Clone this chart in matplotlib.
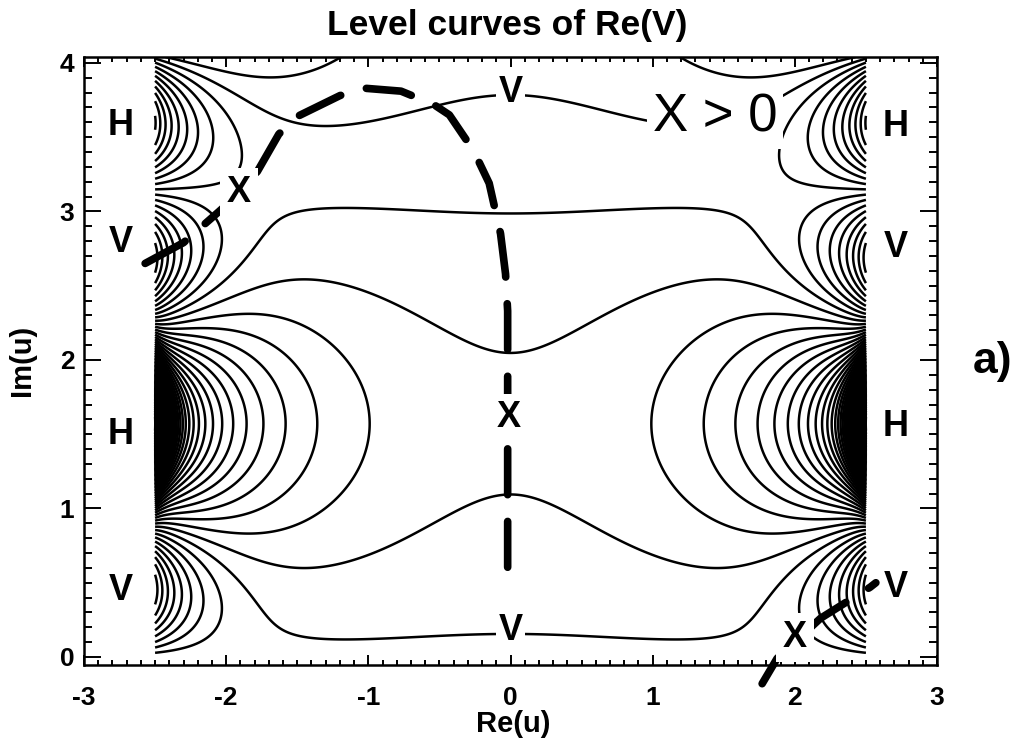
import numpy as np
import matplotlib
matplotlib.use('Agg')
import matplotlib.pyplot as plt
from matplotlib.ticker import MultipleLocator

# Re(V) = -sum amp * cosh(k x) * cos(k (y - y_mid))
mode_k = [1.0, 3.0]
mode_amp = [1.0, 0.01]
y_mid = 1.5708

# steep layer at the edge of the strip around the H points at y_mid
edge_amp = 30.0
edge_width = 0.06
edge_spread = 0.35

# contour levels: evenly spaced, one of them through level_ref
level_ref = -0.15
level_step = 0.74

# region of the u-plane where the level curves are computed
re_range = [-2.5, 2.5]
im_range = [0.0, 4.04]

# thick dashed path through the saddles
path_top_x = [-2.57, -2.30, -2.05, -1.91, -1.78, -1.63, -1.52, -1.20, -1.03, -0.77,
              -0.54, -0.43, -0.26, -0.15, -0.07, -0.035, -0.02, -0.02, -0.02]
path_top_y = [2.65, 2.79, 3.00, 3.12, 3.27, 3.52, 3.63, 3.78, 3.83, 3.81,
              3.72, 3.65, 3.41, 3.19, 2.85, 2.58, 2.33, 1.60, 0.57]
path_bot_x = [1.77, 1.875, 2.00, 2.18, 2.53, 2.57]
path_bot_y = [-0.18, -0.01, 0.10, 0.26, 0.47, 0.50]

# letters beside the level curves
side_text = ['H', 'V', 'H', 'V']
side_left_x = -2.74
side_left_y = [3.58, 2.79, 1.50, 0.45]
side_right_x = 2.71
side_right_y = [3.57, 2.76, 1.55, 0.47]

inner_v_x = [0.0, 0.0]
inner_v_y = [3.80, 0.175]
saddle_x = [-1.91, -0.01, 2.00]
saddle_y = [3.13, 1.61, 0.13]

plt.rcParams['font.family'] = ['Liberation Sans', 'DejaVu Sans']
plt.rcParams['axes.unicode_minus'] = False

fig = plt.figure(figsize=(10.21, 7.51), dpi=100)
W, H = 1021.0, 751.0
ax = fig.add_axes([84 / W, 1 - 665 / H, (937 - 84) / W, (665 - 57) / H])

# field on the grid
x = np.linspace(re_range[0], re_range[1], 1401)
y = np.linspace(im_range[0], im_range[1], 1101)
X, Y = np.meshgrid(x, y)
T = Y - y_mid
F = np.zeros_like(X)
for k, a in zip(mode_k, mode_amp):
    F -= a * np.cosh(k * X) * np.cos(k * T)
F -= (edge_amp * np.exp((np.abs(X) - re_range[1]) / edge_width)
      * np.exp(-(T / edge_spread) ** 2))

n_lo = int(np.floor((F.min() - level_ref) / level_step))
n_hi = int(np.ceil((F.max() - level_ref) / level_step))
levels = level_ref + level_step * np.arange(n_lo, n_hi + 1)
ax.contour(X, Y, F, levels=levels, colors='k', linewidths=1.8,
           linestyles='solid', zorder=1)

# dashed path
for px, py in [(path_top_x, path_top_y), (path_bot_x, path_bot_y)]:
    ln, = ax.plot(px, py, color='k', lw=5.5, solid_capstyle='round',
                  dash_capstyle='round', clip_on=False, zorder=2)
    ln.set_dashes((6.0, 3.5))

letter_kw = dict(fontsize=26, fontweight='bold', ha='center', va='center', zorder=4)
for s, yy in zip(side_text, side_left_y):
    ax.text(side_left_x, yy, s, **letter_kw)
for s, yy in zip(side_text, side_right_y):
    ax.text(side_right_x, yy, s, **letter_kw)
for xx, yy in zip(inner_v_x, inner_v_y):
    ax.text(xx, yy, 'V', bbox=dict(facecolor='white', edgecolor='none', pad=2),
            **letter_kw)
for xx, yy in zip(saddle_x, saddle_y):
    ax.text(xx, yy, 'X', bbox=dict(facecolor='white', edgecolor='none', pad=5),
            **letter_kw)

ax.text(1.44, 3.63, 'X > 0', fontsize=38, ha='center', va='center', zorder=4,
        bbox=dict(facecolor='white', edgecolor='none', pad=4))

ax.set_xlim(-3, 3)
ax.set_ylim(-0.054, 4.04)
ax.xaxis.set_major_locator(MultipleLocator(1))
ax.xaxis.set_minor_locator(MultipleLocator(0.1))
ax.yaxis.set_major_locator(MultipleLocator(1))
ax.yaxis.set_minor_locator(MultipleLocator(0.1))
ax.tick_params(which='both', direction='in', top=True, right=True, width=1.4)
ax.tick_params(axis='x', which='major', length=7.5, pad=15)
ax.tick_params(axis='x', which='minor', length=3.8)
ax.tick_params(axis='y', which='major', length=12, pad=7)
ax.tick_params(axis='y', which='minor', length=6)
for lab in ax.get_xticklabels() + ax.get_yticklabels():
    lab.set_fontsize(19)
    lab.set_fontweight('bold')
for sp in ax.spines.values():
    sp.set_linewidth(1.8)

fig.text(507 / W, 1 - 26 / H, 'Level curves of Re(V)', fontsize=25.5,
         fontweight='bold', ha='center', va='center')
fig.text(513 / W, 1 - 724 / H, 'Re(u)', fontsize=21, fontweight='bold',
         ha='center', va='center')
fig.text(22 / W, 1 - 360 / H, 'Im(u)', fontsize=21, fontweight='bold',
         ha='center', va='center', rotation=90)
fig.text(993 / W, 1 - 362 / H, 'a)', fontsize=32, fontweight='bold',
         ha='center', va='center')

fig.savefig('out.png', dpi=100)
